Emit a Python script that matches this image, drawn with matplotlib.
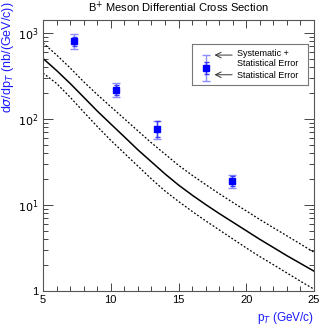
# B+ meson differential cross section vs pT, data points over theory band

import matplotlib
matplotlib.use("Agg")
import matplotlib.pyplot as plt
from matplotlib.ticker import FixedLocator, NullFormatter

plt.rcParams["font.family"] = ["Liberation Sans", "DejaVu Sans"]

# Measured points
pt = [7.31, 10.36, 13.39, 18.93]
xsec = [800, 217, 76, 19]
tot_hi = [960, 260, 95, 22.5]
tot_lo = [650, 179, 58, 15.6]
stat_hi = [900, 245, 93, 21.5]
stat_lo = [700, 190, 62, 16.5]

# Theory curves
pt_curve = list(range(5, 26))
central = [501, 363, 257, 178, 123, 87, 61.7, 43.6, 31.6, 22.9, 17.0,
           13.0, 10.1, 7.94, 6.31, 5.01, 3.98, 3.20, 2.57, 2.09, 1.70]
upper = [759, 550, 389, 269, 191, 138, 100, 72.4, 52.5, 38.9, 28.8,
         22.1, 17.2, 13.5, 10.7, 8.51, 6.76, 5.43, 4.37, 3.51, 2.82]
lower = [339, 257, 178, 120, 81.3, 56.2, 39.8, 28.2, 20.0, 14.5, 10.96,
         8.41, 6.53, 5.13, 4.03, 3.16, 2.51, 2.02, 1.62, 1.30, 1.05]

light = "#8c8cff"
dark = "#3a3aff"

fig = plt.figure(figsize=(3.24, 3.27), dpi=100)
ax = fig.add_axes([43 / 324, 36 / 327, 271 / 324, 271 / 327])

ax.plot(pt_curve, central, color="black", lw=1.1)
ax.plot(pt_curve, upper, color="black", lw=0.9, ls=(0, (1.5, 1.5)))
ax.plot(pt_curve, lower, color="black", lw=0.9, ls=(0, (1.5, 1.5)))

tot_err = [[y - lo for y, lo in zip(xsec, tot_lo)], [hi - y for y, hi in zip(xsec, tot_hi)]]
stat_err = [[y - lo for y, lo in zip(xsec, stat_lo)], [hi - y for y, hi in zip(xsec, stat_hi)]]
ax.errorbar(pt, xsec, yerr=tot_err, fmt="none", ecolor=light, elinewidth=1.0,
            capsize=3.2, capthick=1.0)
ax.errorbar(pt, xsec, yerr=stat_err, fmt="none", ecolor=dark, elinewidth=1.0,
            capsize=1.8, capthick=1.0)
ax.plot(pt, xsec, ls="none", marker="s", ms=4.6, color="#0000ff")

ax.set_yscale("log")
ax.set_xlim(5, 25)
ax.set_ylim(1, 1400)

ax.xaxis.set_major_locator(FixedLocator([5, 10, 15, 20, 25]))
ax.xaxis.set_minor_locator(FixedLocator(range(5, 26)))
ax.set_yticks([1, 10, 100, 1000])
ax.set_yticklabels(["1", "$10^{1}$", "$10^{2}$", "$10^{3}$"])
ax.yaxis.set_minor_formatter(NullFormatter())
ax.tick_params(which="both", direction="in", top=True, right=True,
               labelsize=8, color="#444444", width=0.7)
ax.tick_params(which="major", length=7, pad=3)
ax.tick_params(which="minor", length=3.5)
ax.tick_params(axis="x", which="major", length=6)
for s in ax.spines.values():
    s.set_color("#555555")
    s.set_linewidth(0.8)

ax.set_title("B$^{+}$ Meson Differential Cross Section", fontsize=8, pad=6)
fig.text(0.97, 0.028, "p$_{T}$ (GeV/c)", color="#1a1aff", fontsize=8.5,
         ha="right", va="center")
fig.text(0.024, 0.995, "d$\\sigma$/dp$_{T}$ (nb/(GeV/c))", color="#1a1aff",
         fontsize=9, rotation=90, ha="center", va="top")

# Hand-made legend box
lg = fig.add_axes([192 / 324, (327 - 85) / 327, 116 / 324, 41 / 327])
lg.set_xlim(0, 1)
lg.set_ylim(0, 1)
lg.set_xticks([])
lg.set_yticks([])
for s in lg.spines.values():
    s.set_color("#777777")
    s.set_linewidth(0.8)
lg.errorbar([0.12], [0.42], yerr=[[0.33], [0.32]], fmt="none", ecolor=light,
            elinewidth=1.0, capsize=3.2, capthick=1.0)
lg.errorbar([0.12], [0.42], yerr=[[0.15], [0.15]], fmt="none", ecolor=dark,
            elinewidth=1.0, capsize=1.8, capthick=1.0)
lg.plot([0.12], [0.42], ls="none", marker="s", ms=4.6, color="#0000ff")
arrow = dict(arrowstyle="->", color="#333333", lw=0.7)
lg.annotate("", xy=(0.17, 0.73), xytext=(0.37, 0.73), arrowprops=arrow)
lg.annotate("", xy=(0.17, 0.25), xytext=(0.37, 0.25), arrowprops=arrow)
lg.text(0.39, 0.76, "Systematic +", fontsize=6.5, va="center")
lg.text(0.39, 0.52, "Statistical Error", fontsize=6.5, va="center")
lg.text(0.39, 0.24, "Statistical Error", fontsize=6.5, va="center")

fig.savefig("out.png", dpi=100)
